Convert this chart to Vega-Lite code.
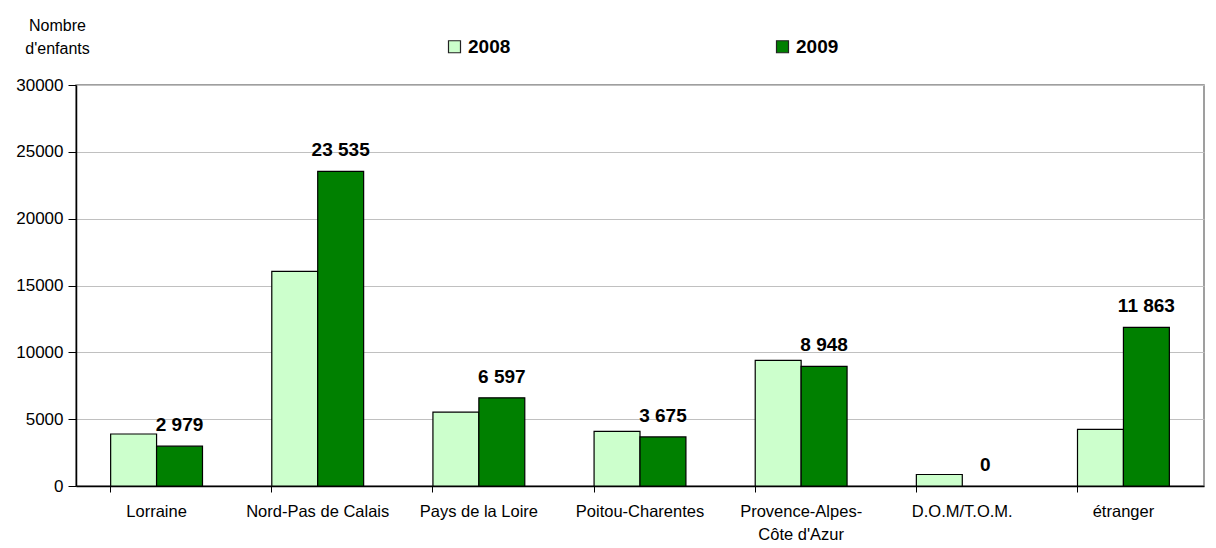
{
  "$schema": "https://vega.github.io/schema/vega-lite/v6.json",
  "autosize": {"type": "none"},
  "width": 1128,
  "height": 401,
  "padding": {"left": 76, "top": 85, "right": 12, "bottom": 62},
  "background": "white",
  "config": {
    "font": "Liberation Sans",
    "view": {"stroke": "#808080", "strokeWidth": 1.5},
    "locale": {"number": {"decimal": ",", "thousands": " ", "grouping": [3], "currency": ["", " €"]}}
  },
  "data": {
    "values": [
      {"region": "Lorraine", "year": "2008", "value": 3890},
      {"region": "Lorraine", "year": "2009", "value": 2979},
      {"region": "Nord-Pas de Calais", "year": "2008", "value": 16050},
      {"region": "Nord-Pas de Calais", "year": "2009", "value": 23535},
      {"region": "Pays de la Loire", "year": "2008", "value": 5520},
      {"region": "Pays de la Loire", "year": "2009", "value": 6597},
      {"region": "Poitou-Charentes", "year": "2008", "value": 4090},
      {"region": "Poitou-Charentes", "year": "2009", "value": 3675},
      {"region": "Provence-Alpes-Côte d'Azur", "year": "2008", "value": 9400},
      {"region": "Provence-Alpes-Côte d'Azur", "year": "2009", "value": 8948},
      {"region": "D.O.M/T.O.M.", "year": "2008", "value": 860},
      {"region": "D.O.M/T.O.M.", "year": "2009", "value": 0},
      {"region": "étranger", "year": "2008", "value": 4240},
      {"region": "étranger", "year": "2009", "value": 11863}
    ]
  },
  "encoding": {
    "x": {
      "field": "region",
      "type": "nominal",
      "sort": null,
      "scale": {"paddingInner": 0.43, "paddingOuter": 0.215},
      "axis": {
        "title": null,
        "labelAngle": 0,
        "labelFontSize": 16.5,
        "labelColor": "black",
        "labelPadding": 11,
        "labelLineHeight": 23,
        "labelExpr": "datum.value == \"Provence-Alpes-Côte d'Azur\" ? ['Provence-Alpes-', \"Côte d'Azur\"] : datum.value",
        "bandPosition": 0,
        "tickSize": 6,
        "tickColor": "black",
        "domainColor": "black",
        "domainWidth": 1.5,
        "grid": false
      }
    },
    "xOffset": {"field": "year", "type": "nominal", "sort": ["2008", "2009"]},
    "y": {
      "field": "value",
      "type": "quantitative",
      "scale": {"domain": [0, 30000], "nice": false},
      "axis": {
        "values": [0, 5000, 10000, 15000, 20000, 25000, 30000],
        "format": "d",
        "labelFontSize": 17,
        "labelColor": "black",
        "labelPadding": 5,
        "tickSize": 8,
        "tickColor": "black",
        "domainColor": "black",
        "domainWidth": 1.5,
        "gridColor": "#c0c0c0",
        "gridWidth": 1,
        "title": ["Nombre", "d'enfants"],
        "titleAngle": 0,
        "titleAlign": "center",
        "titleBaseline": "alphabetic",
        "titleFontSize": 16,
        "titleFontWeight": "normal",
        "titleColor": "black",
        "titleLineHeight": 23,
        "titleX": -19,
        "titleY": -55
      }
    }
  },
  "layer": [
    {
      "transform": [{"filter": "datum.value > 0"}],
      "mark": {"type": "bar", "stroke": "black", "strokeWidth": 1.2},
      "encoding": {
        "color": {
          "field": "year",
          "type": "nominal",
          "scale": {"domain": ["2008", "2009"], "range": ["#ccffcc", "#008000"]},
          "legend": {
            "title": null,
            "orient": "none",
            "direction": "horizontal",
            "legendX": 369,
            "legendY": -48,
            "padding": 0,
            "symbolType": "square",
            "symbolSize": 144,
            "symbolStrokeColor": "#222222",
            "symbolStrokeWidth": 1.2,
            "labelFontSize": 19,
            "labelFontWeight": "bold",
            "labelColor": "black",
            "labelOffset": 4,
            "columnPadding": 262
          }
        }
      }
    },
    {
      "transform": [{"filter": "datum.year == '2009'"}],
      "mark": {"type": "text", "dy": -15, "baseline": "alphabetic", "fontSize": 19, "fontWeight": "bold", "color": "black"},
      "encoding": {
        "text": {"field": "value", "type": "quantitative", "format": ",d"}
      }
    }
  ]
}
